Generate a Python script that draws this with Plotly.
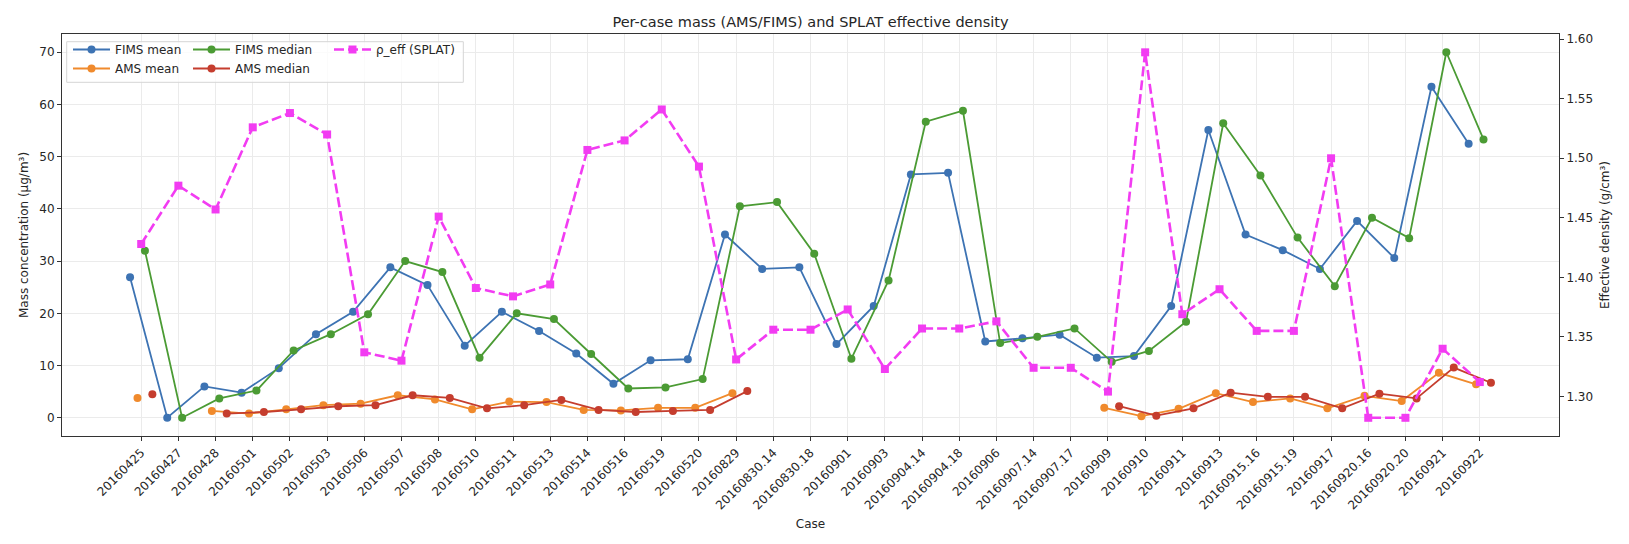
import plotly.graph_objects as go

cases = ["20160425", "20160427", "20160428", "20160501", "20160502", "20160503",
         "20160506", "20160507", "20160508", "20160510", "20160511", "20160513",
         "20160514", "20160516", "20160519", "20160520", "20160829", "20160830.14",
         "20160830.18", "20160901", "20160903", "20160904.14", "20160904.18",
         "20160906", "20160907.14", "20160907.17", "20160909", "20160910",
         "20160911", "20160913", "20160915.16", "20160915.19", "20160917",
         "20160920.16", "20160920.20", "20160921", "20160922"]

fims_mean = [26.9, 0.0, 6.0, 4.8, 9.5, 16.0, 20.3, 28.8, 25.4, 13.8,
             20.3, 16.6, 12.3, 6.5, 11.0, 11.2, 35.1, 28.5, 28.8, 14.1,
             21.4, 46.6, 46.9, 14.6, 15.2, 15.9, 11.5, 11.8, 21.4, 55.1,
             35.1, 32.1, 28.5, 37.7, 30.6, 63.4, 52.5]

ams_mean = [3.8, None, 1.3, 0.8, 1.6, 2.4, 2.7, 4.3, 3.5, 1.6,
            3.1, 3.0, 1.5, 1.4, 1.9, 1.9, 4.7, None, None, None,
            None, None, None, None, None, None, 1.9, 0.3, 1.7, 4.7,
            3.0, 3.7, 1.8, 4.2, 3.2, 8.6, 6.4]

fims_median = [32.0, 0.0, 3.7, 5.2, 12.9, 16.0, 19.8, 30.0, 27.9, 11.5,
               20.0, 18.9, 12.2, 5.6, 5.8, 7.4, 40.5, 41.3, 31.4, 11.3,
               26.3, 56.7, 58.8, 14.3, 15.5, 17.1, 10.7, 12.8, 18.4, 56.4,
               46.4, 34.5, 25.2, 38.3, 34.4, 70.0, 53.3]

ams_median = [4.5, None, 0.8, 1.1, 1.6, 2.2, 2.4, 4.3, 3.8, 1.8,
              2.4, 3.4, 1.5, 1.1, 1.3, 1.5, 5.1, None, None, None,
              None, None, None, None, None, None, 2.2, 0.4, 1.8, 4.8,
              4.0, 4.0, 1.8, 4.6, 3.7, 9.6, 6.7]

rho_eff = [1.428, 1.477, 1.457, 1.526, 1.538, 1.520, 1.337, 1.330, 1.451, 1.391,
           1.384, 1.394, 1.507, 1.515, 1.541, 1.493, 1.331, 1.356, 1.356, 1.373,
           1.323, 1.357, 1.357, 1.363, 1.324, 1.324, 1.304, 1.589, 1.369, 1.390,
           1.355, 1.355, 1.500, 1.282, 1.282, 1.340, 1.312]

idx = list(range(len(cases)))
FONT = "DejaVu Sans"
TXT = "#262626"

def shifted(d):
    return [i + d for i in idx]

fig = go.Figure()

series = [
    ("FIMS mean", fims_mean, -0.3, "#3d73b3", "legend"),
    ("AMS mean", ams_mean, -0.1, "#f08a2c", "legend"),
    ("FIMS median", fims_median, 0.1, "#4b9b34", "legend2"),
    ("AMS median", ams_median, 0.3, "#c53d2e", "legend2"),
]
for name, vals, off, col, lg in series:
    fig.add_trace(go.Scatter(
        x=shifted(off), y=vals, name=name, mode="lines+markers",
        line=dict(color=col, width=1.8),
        marker=dict(color=col, size=8, symbol="circle"),
        legend=lg, yaxis="y"))

fig.add_trace(go.Scatter(
    x=idx, y=rho_eff, name="ρ_eff (SPLAT)", mode="lines+markers",
    line=dict(color="#f23cf2", width=2.6, dash="10px,4px"),
    marker=dict(color="#f23cf2", size=8, symbol="square"),
    legend="legend3", yaxis="y2"))

# plot area geometry (pixels)
W, H = 1629, 544
L, R, T, B = 62, 70, 34, 108
pw = W - L - R
ph = H - T - B

def px_x(p):
    return (p - L) / pw

def px_y(p):
    return (H - B - p) / ph

leg_common = dict(bgcolor="rgba(0,0,0,0)", borderwidth=0,
                  font=dict(family=FONT, size=12, color=TXT),
                  xanchor="left", yanchor="top", orientation="v",
                  tracegroupgap=0, itemwidth=37)

fig.update_layout(
    width=W, height=H,
    margin=dict(l=L, r=R, t=T, b=B, pad=0),
    paper_bgcolor="white", plot_bgcolor="white",
    font=dict(family=FONT, size=12, color=TXT),
    title=dict(text="Per-case mass (AMS/FIMS) and SPLAT effective density",
               x=(L + pw / 2) / W, xanchor="center", y=1 - 22 / H, yanchor="middle",
               font=dict(family=FONT, size=14.5, color=TXT)),
    xaxis=dict(range=[-2.13, 38.13], tickmode="array", tickvals=idx, ticktext=cases,
               tickangle=-45, ticks="outside", ticklen=4, tickcolor="#333",
               showline=True, linecolor="#333", linewidth=1, mirror=True,
               showgrid=True, gridcolor="#ebebeb", gridwidth=1, zeroline=False,
               tickfont=dict(family=FONT, size=12, color=TXT),
               title=dict(text="Case", font=dict(family=FONT, size=12, color=TXT), standoff=8)),
    yaxis=dict(range=[-3.5, 73.5], tickmode="array", tickvals=list(range(0, 71, 10)),
               ticks="outside", ticklen=4, tickcolor="#333",
               showline=True, linecolor="#333", linewidth=1, mirror=True,
               showgrid=True, gridcolor="#ebebeb", gridwidth=1, zeroline=False,
               tickfont=dict(family=FONT, size=12, color=TXT),
               title=dict(text="Mass concentration (μg/m³)",
                          font=dict(family=FONT, size=12, color=TXT), standoff=8)),
    yaxis2=dict(range=[1.2667, 1.6044], overlaying="y", side="right",
                tickmode="array", tickvals=[1.30, 1.35, 1.40, 1.45, 1.50, 1.55, 1.60],
                tickformat=".2f", ticks="outside", ticklen=4, tickcolor="#333",
                showline=False, showgrid=False, zeroline=False,
                tickfont=dict(family=FONT, size=12, color=TXT),
                title=dict(text="Effective density (g/cm³)",
                           font=dict(family=FONT, size=12, color=TXT), standoff=8)),
    legend=dict(x=px_x(68), y=px_y(35), **leg_common),
    legend2=dict(x=px_x(188), y=px_y(35), **leg_common),
    legend3=dict(x=px_x(329), y=px_y(35), **leg_common),
    shapes=[dict(type="rect", xref="paper", yref="paper",
                 x0=px_x(66.7), x1=px_x(463.3), y0=px_y(82.3), y1=px_y(41.7),
                 line=dict(color="#d5d5d5", width=1),
                 fillcolor="rgba(255,255,255,0.8)", layer="above")],
)

fig.write_html("out.html", config={"displayModeBar": False},
               post_script="document.body.style.margin='0';")
